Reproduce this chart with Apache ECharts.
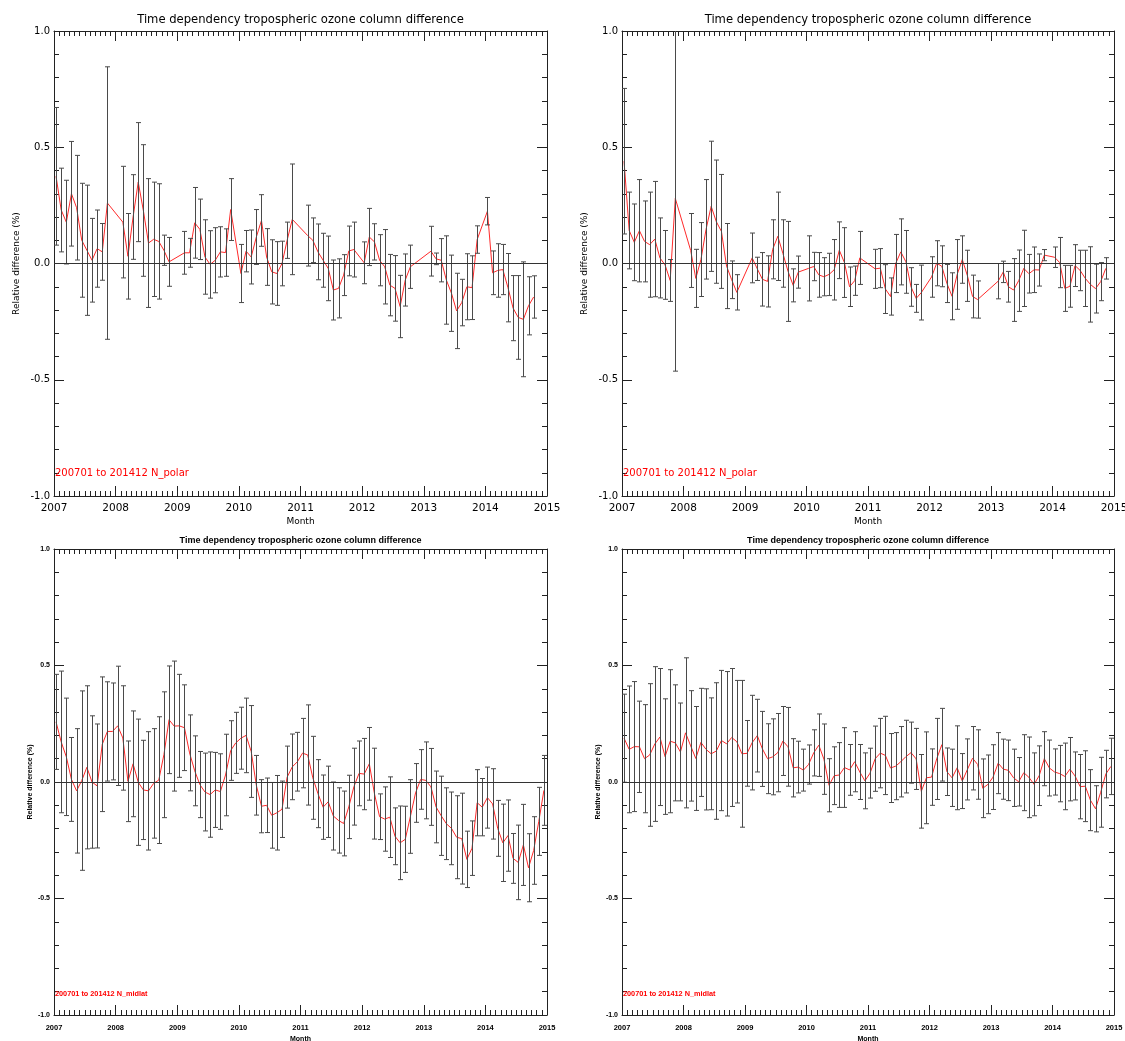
<!DOCTYPE html>
<html>
<head>
<meta charset="utf-8">
<script src="https://cdn.jsdelivr.net/npm/echarts@6/dist/echarts.min.js"></script>
<style>
  html, body { margin: 0; padding: 0; background: #fff; }
  #chart { width: 1125px; height: 1041px; }
</style>
</head>
<body>
<div id="chart"></div>
<script>
// months present in the polar panels (winter months are missing)
const polarMonthsA = [
  '200701','200702','200703','200704','200705','200706','200707','200708','200709','200710','200711',
  '200802','200803','200804','200805','200806','200807','200808','200809','200810','200811',
  '200902','200903','200904','200905','200906','200907','200908','200909','200910','200911',
  '201001','201002','201003','201004','201005','201006','201007','201008','201009','201010','201011',
  '201102','201103','201104','201105','201106','201107','201108','201109','201110','201111',
  '201201','201202','201203','201204','201205','201206','201207','201208','201209','201210',
  '201302','201303','201304','201305','201306','201307','201308','201309','201310','201311',
  '201401','201402','201403','201404','201405','201406','201407','201408','201409','201410'
];
const polarMonthsB = polarMonthsA.concat(['201411']);

const polarMeanA = [
  0.375,0.23,0.178,0.30,0.24,0.10,0.057,0.014,0.064,0.05,0.26,
  0.178,0.031,0.2,0.35,0.228,0.088,0.104,0.095,0.057,0.007,
  0.046,0.046,0.175,0.147,0.028,-0.004,0.014,0.05,0.047,0.232,
  -0.043,0.053,0.028,0.114,0.185,0.028,-0.036,-0.043,0.0,0.1,0.19,
  0.12,0.1,0.05,0.014,-0.021,-0.114,-0.107,-0.05,0.054,0.06,
  0.003,0.114,0.093,0.014,-0.014,-0.093,-0.107,-0.185,-0.071,-0.014,
  0.053,0.02,0.014,-0.071,-0.128,-0.204,-0.168,-0.1,-0.104,0.103,
  0.225,-0.04,-0.03,-0.026,-0.104,-0.192,-0.232,-0.24,-0.182,-0.144
];
const polarErrA = [
  0.296,0.18,0.18,0.225,0.225,0.245,0.28,0.18,0.166,0.122,0.586,
  0.24,0.184,0.182,0.256,0.283,0.277,0.246,0.248,0.065,0.105,
  0.092,0.062,0.152,0.13,0.16,0.145,0.14,0.108,0.102,0.133,
  0.125,0.089,0.116,0.118,0.111,0.122,0.138,0.137,0.096,0.078,0.238,
  0.131,0.096,0.12,0.116,0.139,0.129,0.127,0.088,0.107,0.118,
  0.09,0.123,0.078,0.11,0.16,0.132,0.141,0.134,0.112,0.093,
  0.107,0.025,0.093,0.19,0.164,0.162,0.1,0.142,0.137,0.059,
  0.059,0.094,0.115,0.108,0.147,0.14,0.18,0.247,0.125,0.091
];
const polarMeanB = [
  0.44,0.142,0.091,0.141,0.095,0.081,0.105,0.024,-0.006,-0.073,0.28,
  0.056,-0.064,0.017,0.147,0.246,0.18,0.138,-0.011,-0.07,-0.124,
  0.024,-0.023,-0.068,-0.077,0.061,0.117,0.043,-0.034,-0.094,-0.037,
  -0.021,-0.013,-0.049,-0.057,-0.047,-0.027,0.057,0.004,-0.1,-0.074,0.024,
  -0.023,-0.02,-0.11,-0.142,0.0,0.05,0.007,-0.101,-0.15,-0.125,
  -0.058,0.001,-0.012,-0.086,-0.141,-0.047,0.017,-0.053,-0.142,-0.155,
  -0.076,-0.036,-0.1,-0.114,-0.074,-0.021,-0.044,-0.027,-0.028,0.036,
  0.027,0.004,-0.107,-0.098,-0.009,-0.03,-0.064,-0.09,-0.108,-0.078,-0.021
];
const polarErrB = [
  0.313,0.165,0.165,0.22,0.174,0.226,0.248,0.172,0.148,0.09,0.743,
  0.159,0.125,0.159,0.214,0.28,0.265,0.245,0.183,0.081,0.076,
  0.107,0.05,0.115,0.11,0.127,0.19,0.145,0.215,0.071,0.069,
  0.14,0.061,0.096,0.082,0.091,0.13,0.122,0.15,0.085,0.063,0.114,
  0.084,0.084,0.105,0.08,0.125,0.142,0.135,0.083,0.06,0.118,
  0.087,0.097,0.088,0.082,0.101,0.15,0.102,0.11,0.092,0.08,
  0.076,0.046,0.066,0.135,0.132,0.164,0.083,0.098,0.069,0.024,
  0.044,0.108,0.099,0.09,0.09,0.087,0.121,0.162,0.105,0.082,0.046
];

// midlatitude panels have every month 200701..201412
const midlatMonths = [];
for (let y = 2007; y <= 2014; y++) {
  for (let m = 1; m <= 12; m++) midlatMonths.push(y + (m < 10 ? '0' : '') + m);
}
const midlatMeanA = [
  0.258,0.172,0.108,0.011,-0.038,0.006,0.063,0.0,-0.017,0.162,0.217,0.217,
  0.241,0.189,0.003,0.078,-0.001,-0.034,-0.038,-0.006,0.008,0.117,0.267,0.24,
  0.241,0.233,0.125,0.048,-0.011,-0.043,-0.054,-0.034,-0.041,0.03,0.135,0.168,
  0.188,0.2,0.131,-0.014,-0.104,-0.1,-0.143,-0.132,-0.117,0.021,0.065,0.087,
  0.124,0.116,0.018,-0.05,-0.108,-0.085,-0.146,-0.165,-0.178,-0.107,-0.02,0.037,
  0.034,0.078,-0.05,-0.149,-0.159,-0.151,-0.233,-0.261,-0.246,-0.148,-0.047,0.011,
  0.007,-0.021,-0.107,-0.145,-0.179,-0.199,-0.237,-0.243,-0.332,-0.284,-0.089,-0.108,
  -0.067,-0.094,-0.199,-0.261,-0.23,-0.328,-0.345,-0.27,-0.368,-0.294,-0.169,-0.036
];
const midlatErrA = [
  0.204,0.304,0.252,0.18,0.267,0.385,0.35,0.284,0.266,0.289,0.213,0.208,
  0.256,0.224,0.173,0.227,0.271,0.213,0.254,0.235,0.272,0.27,0.231,0.279,
  0.221,0.184,0.163,0.15,0.142,0.167,0.183,0.161,0.162,0.175,0.128,0.131,
  0.133,0.16,0.197,0.128,0.114,0.117,0.141,0.16,0.121,0.133,0.141,0.126,
  0.149,0.215,0.178,0.146,0.138,0.153,0.146,0.14,0.139,0.136,0.165,0.139,
  0.153,0.156,0.195,0.098,0.138,0.173,0.122,0.158,0.142,0.158,0.126,0.128,
  0.165,0.165,0.154,0.17,0.154,0.156,0.178,0.195,0.121,0.117,0.142,0.123,
  0.131,0.151,0.12,0.166,0.153,0.107,0.16,0.174,0.146,0.145,0.146,0.15
];
const midlatMeanB = [
  0.188,0.14,0.152,0.151,0.1,0.116,0.163,0.193,0.109,0.175,0.168,0.129,
  0.211,0.155,0.101,0.17,0.14,0.121,0.133,0.178,0.164,0.191,0.173,0.121,
  0.123,0.169,0.199,0.142,0.1,0.108,0.126,0.176,0.151,0.061,0.064,0.051,
  0.075,0.125,0.158,0.098,-0.014,0.027,0.03,0.062,0.052,0.087,0.043,0.005,
  0.038,0.1,0.124,0.114,0.06,0.068,0.087,0.109,0.126,0.099,-0.04,0.018,
  0.021,0.099,0.16,0.044,0.018,0.061,0.004,0.054,0.102,0.075,-0.027,-0.01,
  0.021,0.081,0.055,0.05,0.018,0.001,0.04,0.02,-0.01,0.027,0.1,0.06,
  0.043,0.036,0.024,0.055,0.026,-0.02,-0.018,-0.078,-0.115,-0.044,0.034,0.067
];
const midlatErrB = [
  0.189,0.272,0.279,0.196,0.232,0.306,0.332,0.294,0.248,0.307,0.249,0.21,
  0.322,0.237,0.223,0.232,0.26,0.24,0.293,0.301,0.31,0.296,0.263,0.315,
  0.141,0.203,0.156,0.161,0.15,0.163,0.168,0.148,0.169,0.125,0.111,0.09,
  0.084,0.099,0.134,0.151,0.114,0.124,0.139,0.171,0.109,0.129,0.118,0.12,
  0.107,0.14,0.149,0.168,0.148,0.144,0.151,0.156,0.131,0.131,0.158,0.197,
  0.121,0.174,0.156,0.102,0.123,0.18,0.118,0.131,0.136,0.149,0.126,0.126,
  0.139,0.131,0.129,0.13,0.123,0.104,0.163,0.173,0.135,0.128,0.116,0.12,
  0.099,0.121,0.143,0.136,0.103,0.138,0.152,0.131,0.099,0.15,0.102,0.121
];

const yearTicks = [2007, 2015];
const titleText = 'Time dependency tropospheric ozone column difference';

const panels = [
  { months: polarMonthsA, mean: polarMeanA, err: polarErrA, tag: '200701 to 201412 N_polar', bold: false },
  { months: polarMonthsB, mean: polarMeanB, err: polarErrB, tag: '200701 to 201412 N_polar', bold: false },
  { months: midlatMonths, mean: midlatMeanA, err: midlatErrA, tag: '200701 to 201412 N_midlat', bold: true },
  { months: midlatMonths, mean: midlatMeanB, err: midlatErrB, tag: '200701 to 201412 N_midlat', bold: true }
];

// fixed plot boxes; outerBoundsMode none so labels may run off the canvas like the original
const grids = [
  { left: 54, top: 31, width: 493, height: 465, outerBoundsMode: 'none' },
  { left: 622, top: 31, width: 492, height: 465, outerBoundsMode: 'none' },
  { left: 54, top: 549, width: 493, height: 466, outerBoundsMode: 'none' },
  { left: 622, top: 549, width: 492, height: 466, outerBoundsMode: 'none' }
];

// month label -> decimal year (points sit near mid-month)
function toYear(label) {
  return +label.slice(0, 4) + (+label.slice(4) - 1 + 0.4) / 12;
}

function renderErrorBar(params, api) {
  const x = api.value(0);
  const lo = api.coord([x, api.value(1)]);
  const hi = api.coord([x, api.value(2)]);
  const px = Math.round(lo[0]) + 0.5;
  const hw = 2.5;
  const style = { stroke: '#4a4a4a', lineWidth: 1 };
  return {
    type: 'group',
    children: [
      { type: 'line', shape: { x1: px, y1: hi[1], x2: px, y2: lo[1] }, style: style },
      { type: 'line', shape: { x1: px - hw, y1: hi[1], x2: px + hw, y2: hi[1] }, style: style },
      { type: 'line', shape: { x1: px - hw, y1: lo[1], x2: px + hw, y2: lo[1] }, style: style }
    ]
  };
}

const axisColor = '#222';
const xAxis = [], yAxis = [], series = [], titles = [];

panels.forEach(function (p, i) {
  const g = grids[i];
  const font = p.bold ? 'Liberation Sans' : 'DejaVu Sans';
  const weight = p.bold ? 'bold' : 'normal';
  const common = {
    type: 'value', gridIndex: i, splitLine: { show: false },
    axisLine: { onZero: false, lineStyle: { color: axisColor, width: 1 } },
    axisTick: { inside: true, length: 10, lineStyle: { color: axisColor } }
  };
  const xBase = Object.assign({}, common, {
    min: yearTicks[0], max: yearTicks[1], interval: 1,
    minorTick: { show: true, splitNumber: 12, length: 5, lineStyle: { color: axisColor } }
  });
  const yBase = Object.assign({}, common, {
    min: -1, max: 1, interval: 0.5,
    minorTick: { show: true, splitNumber: 5, length: 5, lineStyle: { color: axisColor } }
  });
  xAxis.push(Object.assign({}, xBase, {
    position: 'bottom',
    name: 'Month', nameLocation: 'middle', nameGap: p.bold ? 21 : 21,
    nameTextStyle: { fontFamily: font, fontWeight: weight, fontSize: p.bold ? 7 : 9, color: '#000' },
    axisLabel: { margin: p.bold ? 9 : 7, fontFamily: font, fontWeight: weight, fontSize: p.bold ? 7.5 : 10.5,
      color: '#000', formatter: function (v) { return String(v); } }
  }));
  xAxis.push(Object.assign({}, xBase, { position: 'top', axisLabel: { show: false } }));
  yAxis.push(Object.assign({}, yBase, {
    position: 'left',
    name: 'Relative difference (%)', nameLocation: 'middle', nameGap: p.bold ? 19 : 33,
    nameTextStyle: { fontFamily: font, fontWeight: weight, fontSize: p.bold ? 7 : 9, color: '#000' },
    axisLabel: { margin: 4, fontFamily: font, fontWeight: weight, fontSize: p.bold ? 7 : 10, color: '#000',
      formatter: function (v) { return v.toFixed(1); } }
  }));
  yAxis.push(Object.assign({}, yBase, { position: 'right', axisLabel: { show: false } }));

  const meanData = p.months.map(function (m, k) { return [toYear(m), p.mean[k]]; });
  const barData = p.months.map(function (m, k) {
    return [toYear(m), p.mean[k] - p.err[k], p.mean[k] + p.err[k]];
  });

  series.push({
    type: 'line', xAxisIndex: 2 * i, yAxisIndex: 2 * i,
    data: meanData, showSymbol: false, symbol: 'none',
    lineStyle: { color: '#ff2a2a', width: 1 }, z: 3, animation: false,
    markLine: {
      silent: true, symbol: 'none', label: { show: false },
      lineStyle: { color: '#333', type: 'solid', width: 1 },
      data: [{ yAxis: 0 }]
    }
  });
  series.push({
    type: 'custom', xAxisIndex: 2 * i, yAxisIndex: 2 * i,
    data: barData, renderItem: renderErrorBar, clip: true, z: 4,
    encode: { x: 0, y: [1, 2] }, animation: false
  });

  // panel title, centred over the plot
  titles.push({
    text: titleText, left: g.left + g.width / 2, top: g.top - (p.bold ? 13 : 17),
    textAlign: 'center', padding: 0,
    textStyle: { fontFamily: font, fontWeight: weight, fontSize: p.bold ? 9 : 11.6, color: '#000' }
  });
  // red period / region tag inside the plot
  titles.push({
    text: p.tag, left: g.left + 1, top: g.top + g.height - (p.bold ? 25 : 28),
    textAlign: 'left', padding: 0,
    textStyle: { fontFamily: font, fontWeight: weight, fontSize: p.bold ? 7.3 : 10, color: '#ff0000' }
  });
});

const chart = echarts.init(document.getElementById('chart'));
chart.setOption({
  backgroundColor: '#fff',
  animation: false,
  title: titles,
  grid: grids,
  xAxis: xAxis,
  yAxis: yAxis,
  series: series
});
</script>
</body>
</html>
